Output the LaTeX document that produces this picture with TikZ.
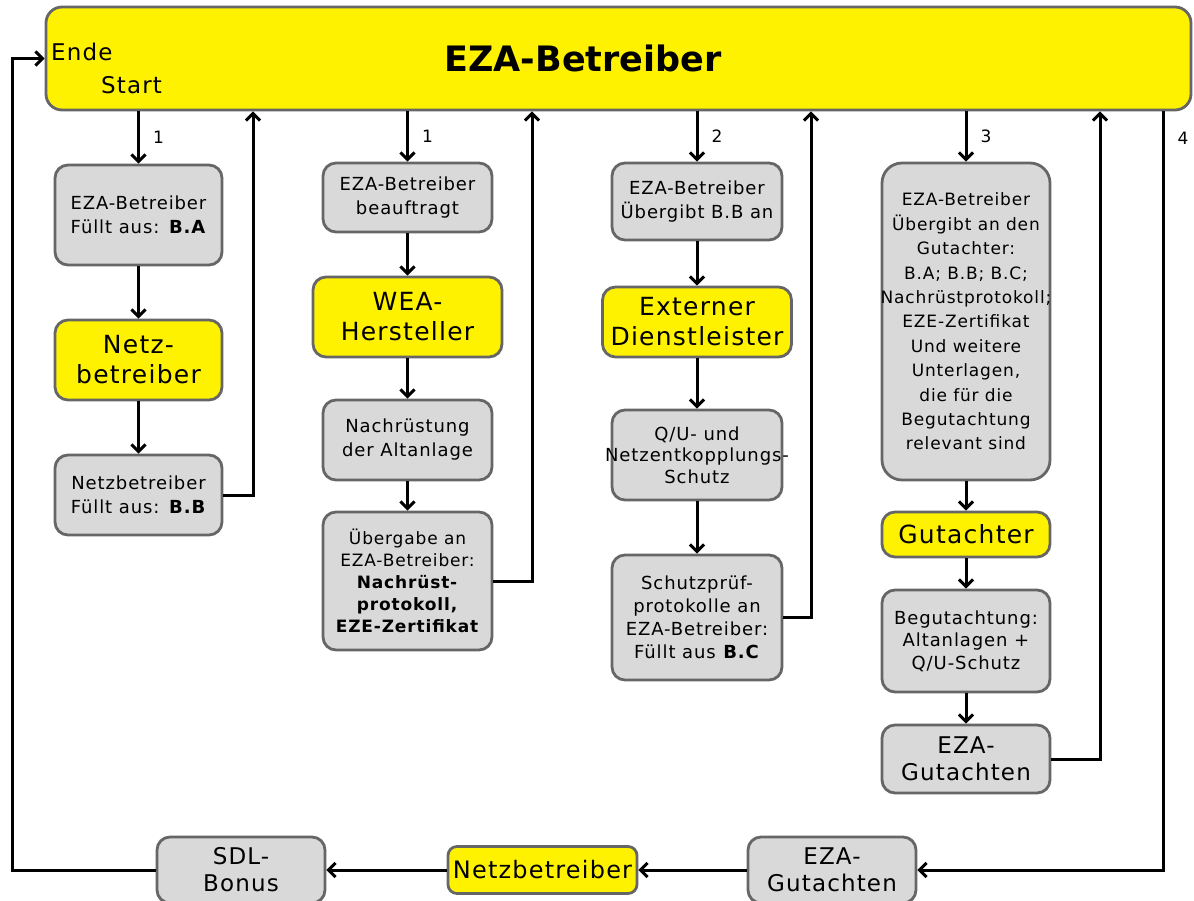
\documentclass[tikz,border=0pt]{standalone}
\usepackage{fontspec}
\setmainfont[LetterSpace=5]{DejaVu Sans}
\newfontfamily\plainfont{DejaVu Sans}
\usetikzlibrary{positioning,arrows.meta}
\definecolor{boxgray}{HTML}{D9D9D9}
\definecolor{framegray}{HTML}{666666}

\begin{document}
\begin{tikzpicture}[x=1pt,y=-1pt,on grid,
   >={Straight Barb[length=7pt,width=14pt]},
   line/.style={line width=3pt},
   box/.style={draw=framegray,line width=2.8pt,fill=boxgray,rounded corners=13pt,
     align=center,inner sep=1pt,font=\fontsize{18}{24}\selectfont},
   hbox/.style={box,fill=yellow,font=\fontsize{25}{30}\selectfont},
   bigbox/.style={box,font=\fontsize{23}{27}\selectfont},
   num/.style={right,inner xsep=13pt,font=\fontsize{17}{20}\selectfont}]
   \useasboundingbox (0,0) rectangle (1194,901);

   % the operator on top
   \node[hbox, minimum width=1145pt, minimum height=103pt, rounded corners=16pt] (eza) at (618.5,58.5) {};
   \node[font=\plainfont\fontsize{35}{40}\selectfont\bfseries] (title) at (583,58) {EZA-Betreiber};
   \node[anchor=west, inner sep=0pt, font=\fontsize{23}{28}\selectfont] (ende) at (51,52) {Ende};
   \node[anchor=west, inner sep=0pt, font=\fontsize{23}{28}\selectfont] (start) at (101,85) {Start};

   % column 1
   \node[box, minimum width=167pt, minimum height=100pt] (a1) at (138.5,215) {EZA-Betreiber\\Füllt aus: \textbf{B.A}};
   \node[hbox, minimum width=167pt, minimum height=80pt] (n1) [below=145pt of a1] {Netz-\\betreiber};
   \node[box, minimum width=167pt, minimum height=80pt] (b1) [below=135pt of n1] {Netzbetreiber\\Füllt aus: \textbf{B.B}};

   % column 2
   \node[box, minimum width=169pt, minimum height=69pt] (a2) at (407.5,197.5) {EZA-Betreiber\\beauftragt};
   \node[hbox, minimum width=189pt, minimum height=80pt] (w2) [below=119.5pt of a2] {WEA-\\Hersteller};
   \node[box, minimum width=169pt, minimum height=80pt] (n2) [below=123pt of w2] {Nachrüstung\\der Altanlage};
   \node[box, minimum width=169pt, minimum height=138pt, font=\fontsize{17}{22}\selectfont] (u2) [below=141pt of n2]
     {Übergabe an\\EZA-Betreiber:\\\textbf{Nachrüst-}\\\textbf{protokoll,}\\\textbf{EZE-Zertifikat}};

   % column 3
   \node[box, minimum width=170pt, minimum height=77pt] (a3) at (697,201.5) {EZA-Betreiber\\Übergibt B.B an};
   \node[hbox, minimum width=189pt, minimum height=70pt] (e3) [below=120.5pt of a3] {Externer\\Dienstleister};
   \node[box, minimum width=170pt, minimum height=90pt, font=\fontsize{18}{21.5}\selectfont] (q3) [below=133pt of e3]
     {Q/U- und\\\makebox[160pt]{Netzentkopplungs-}\\Schutz};
   \node[box, minimum width=170pt, minimum height=125pt, font=\fontsize{18}{23}\selectfont] (s3) [below=162.5pt of q3]
     {Schutzprüf-\\protokolle an\\EZA-Betreiber:\\Füllt aus \textbf{B.C}};

   % column 4
   \node[box, minimum width=168pt, minimum height=317pt, rounded corners=20pt, font=\fontsize{17}{24.4}\selectfont] (a4) at (966,321.5)
     {EZA-Betreiber\\Übergibt an den\\Gutachter:\\B.A; B.B; B.C;\\\makebox[160pt]{Nachrüstprotokoll;}\\EZE-Zertifikat\\Und weitere\\Unterlagen,\\die für die\\Begutachtung\\relevant sind};
   \node[hbox, minimum width=168pt, minimum height=45pt] (g4) [below=213pt of a4] {Gutachter};
   \node[box, minimum width=168pt, minimum height=102pt, font=\fontsize{18}{22.5}\selectfont] (b4) [below=106.5pt of g4] {Begutachtung:\\Altanlagen +\\Q/U-Schutz};
   \node[bigbox, minimum width=168pt, minimum height=68pt] (e4) [below=118pt of b4] {EZA-\\Gutachten};

   % bottom row
   \node[bigbox, minimum width=168pt, minimum height=66pt] (gb) at (832,870) {EZA-\\Gutachten};
   \node[hbox, minimum width=189pt, minimum height=47pt, font=\fontsize{24}{28}\selectfont, rounded corners=9pt] (nb) [left=289.5pt of gb] {Netzbetreiber};
   \node[bigbox, minimum width=168pt, minimum height=66pt] (sdl) [left=301.5pt of nb] {SDL-\\Bonus};

   \coordinate (l0) at (12,0);
   \coordinate (r1) at (253,0);
   \coordinate (r2) at (532,0);
   \coordinate (r3) at (811,0);
   \coordinate (r4) at (1100,0);
   \coordinate (r5) at (1163,0);

   \path[->, line]
   (eza.south -| a1) edge node[num] {1} (a1)
   (a1) edge (n1)
   (n1) edge (b1)
   (eza.south -| a2) edge node[num] {1} (a2)
   (a2) edge (w2)
   (w2) edge (n2)
   (n2) edge (u2)
   (eza.south -| a3) edge node[num] {2} (a3)
   (a3) edge (e3)
   (e3) edge (q3)
   (q3) edge (s3)
   (eza.south -| a4) edge node[num] {3} (a4)
   (a4) edge (g4)
   (g4) edge (b4)
   (b4) edge (e4)
   (gb) edge (nb)
   (nb) edge (sdl);

   \draw[->, line] (b1.east) -| (r1 |- eza.south);
   \draw[->, line] (u2.east) -| (r2 |- eza.south);
   \draw[->, line] (s3.east) -| (r3 |- eza.south);
   \draw[->, line] (e4.east) -| (r4 |- eza.south);
   \draw[->, line] (r5 |- eza.south) |- node[num, pos=0.018] {4} (gb.east);
   \draw[->, line] (sdl.west) -| (l0 |- eza.west) -- (eza.west);
\end{tikzpicture}
\end{document}
